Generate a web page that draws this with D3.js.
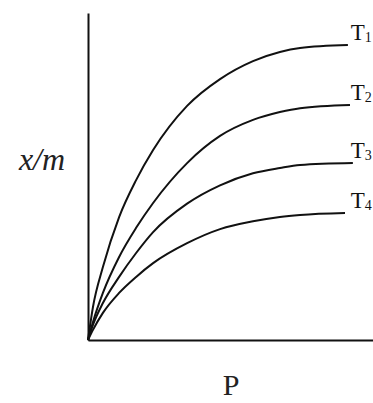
<!DOCTYPE html>
<html lang="en">
<head>
  <meta charset="utf-8">
  <title>Adsorption isotherms</title>
  <script src="https://d3js.org/d3.v7.min.js"></script>
  <style>
    body { margin: 0; background: #fff; }
  </style>
</head>
<body>
	<script type="text/javascript">

		// Pressure readings shared by all curves (last point per series below)
		var pressure = [0, 0.19, 0.57, 1.19, 1.84, 2.49, 3.79, 5.05, 6.31, 7.34, 8.11, 10];
		var lastP = [9.94, 10.02, 10.13, 9.83];

		// x/m for each temperature
		var seriesNames = ["T1", "T2", "T3", "T4"];
		var T1 = [0, 1.01, 2.23, 3.76, 4.89, 5.81, 7.16, 7.98, 8.53, 8.81, 8.93, 9.02];
		var T2 = [0, 0.55, 1.44, 2.54, 3.43, 4.19, 5.41, 6.24, 6.73, 6.97, 7.09, 7.19];
		var T3 = [0, 0.46, 1.13, 1.93, 2.66, 3.30, 4.17, 4.73, 5.10, 5.26, 5.35, 5.41];
		var T4 = [0, 0.31, 0.83, 1.44, 1.93, 2.35, 2.96, 3.39, 3.63, 3.76, 3.82, 3.88];
		var seriesValues = [T1, T2, T3, T4];

		var width = 373;
		var height = 403;

		var svg = d3.select("body")
					.append("svg")
					.attr("width", width)
					.attr("height", height);

		// Scales
		var xScale = d3.scaleLinear()
					   .domain([0, 10.9])
					   .range([88, 373]);

		var yScale = d3.scaleLinear()
					   .domain([0, 10])
					   .range([340, 13]);

		// Axes without ticks, only the lines
		var xAxis = d3.axisBottom(xScale).tickValues([]).tickSizeOuter(0);
		var yAxis = d3.axisLeft(yScale).tickValues([]).tickSizeOuter(0);

		svg.append("g")
			.attr("class", "axis")
			.attr("transform", "translate(0," + yScale(0) + ")")
			.call(xAxis)
			.select(".domain")
			.attr("stroke", "#111")
			.attr("stroke-width", 2);

		svg.append("g")
			.attr("class", "axis")
			.attr("transform", "translate(" + xScale(0) + ",0)")
			.call(yAxis)
			.select(".domain")
			.attr("stroke", "#111")
			.attr("stroke-width", 2);

		// Curves
		var line = d3.line()
					 .x(function(d) { return xScale(d[0]); })
					 .y(function(d) { return yScale(d[1]); })
					 .curve(d3.curveMonotoneX);

		var curves = seriesValues.map(function(vals, i) {
			return vals.map(function(v, j) {
				var p = (j === vals.length - 1) ? lastP[i] : pressure[j];
				return [p, v];
			});
		});

		svg.selectAll("path.curve")
		   .data(curves)
		   .enter()
			   .append("path")
			   .attr("class", "curve")
			   .attr("d", line)
			   .attr("fill", "none")
			   .attr("stroke", "#111")
			   .attr("stroke-width", 2);

		// Temperature labels just right of the curve ends
		var labels = svg.selectAll("text.tlabel")
		   .data(curves)
		   .enter()
			   .append("text")
			   .attr("class", "tlabel")
			   .attr("x", xScale(10.05))
			   .attr("y", function(d) { return yScale(d[d.length - 1][1]) - 5; })
			   .attr("font-family", "Liberation Serif, serif")
			   .attr("font-size", "23px")
			   .attr("fill", "#111");

		labels.append("tspan")
			  .text(function(d, i) { return seriesNames[i].charAt(0); });
		labels.append("tspan")
			  .attr("font-size", "14px")
			  .attr("dy", 2)
			  .text(function(d, i) { return seriesNames[i].slice(1); });

		// Axis titles
		svg.append("text")
		   .attr("x", 42)
		   .attr("y", 170)
		   .attr("text-anchor", "middle")
		   .attr("font-family", "Liberation Serif, serif")
		   .attr("font-style", "italic")
		   .attr("font-size", "32px")
		   .attr("fill", "#222")
		   .text("x/m");

		svg.append("text")
		   .attr("x", 231)
		   .attr("y", 395)
		   .attr("text-anchor", "middle")
		   .attr("font-family", "Liberation Serif, serif")
		   .attr("font-size", "30px")
		   .attr("fill", "#222")
		   .text("P");

	</script>
</body>
</html>
